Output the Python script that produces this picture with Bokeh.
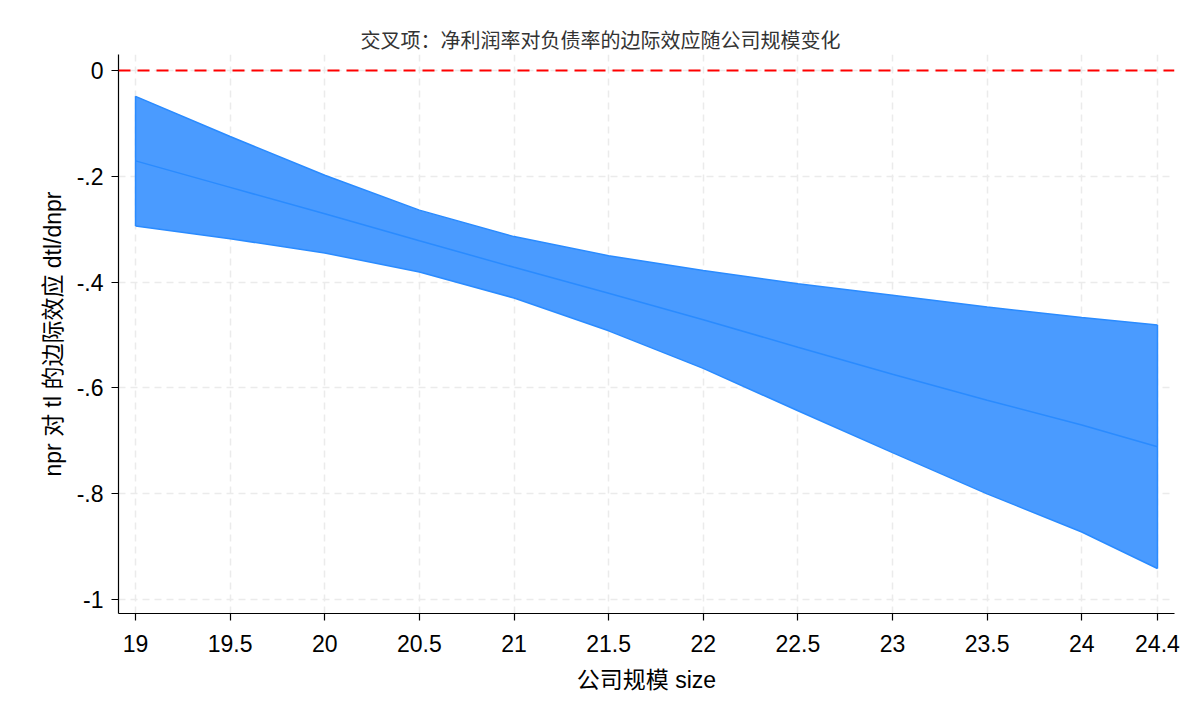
from bokeh.plotting import figure
from bokeh.models import FixedTicker, Span, Range1d, ColumnDataSource
from bokeh.embed import file_html
from bokeh.resources import INLINE

# data
size = [19, 19.5, 20, 20.5, 21, 21.5, 22, 22.5, 23, 23.5, 24, 24.4]
upper = [-0.049, -0.125, -0.198, -0.264, -0.314, -0.350, -0.378, -0.403, -0.425, -0.447, -0.467, -0.481]
lower = [-0.294, -0.318, -0.345, -0.381, -0.430, -0.492, -0.563, -0.643, -0.722, -0.800, -0.872, -0.941]
effect = [-0.171, -0.221, -0.271, -0.322, -0.372, -0.421, -0.471, -0.523, -0.574, -0.623, -0.670, -0.711]
x_ticks = [19, 19.5, 20, 20.5, 21, 21.5, 22, 22.5, 23, 23.5, 24, 24.4]
x_tick_labels = ["19", "19.5", "20", "20.5", "21", "21.5", "22", "22.5", "23", "23.5", "24", "24.4"]
y_ticks = [0, -0.2, -0.4, -0.6, -0.8, -1]
y_tick_labels = ["0", "-.2", "-.4", "-.6", "-.8", "-1"]

LAT = "Liberation Sans, Noto Sans CJK SC"

p = figure(width=1184, height=712, output_backend="svg", toolbar_location=None,
           x_range=Range1d(18.91, 24.49), y_range=Range1d(-1.026, 0.030),
           min_border_left=118, min_border_right=10, min_border_top=54, min_border_bottom=99,
           title="交叉项：净利润率对负债率的边际效应随公司规模变化")
p.outline_line_color = None
p.background_fill_color = "white"
p.border_fill_color = "white"

p.title.align = "left"
p.title.text_font = "Noto Sans CJK SC"
p.title.text_font_size = "20px"
p.title.text_font_style = "normal"
p.title.text_color = "#333333"
p.title.offset = 242
p.title.standoff = 1

src = ColumnDataSource(dict(x=size, lo=lower, hi=upper, m=effect))
p.varea(x="x", y1="lo", y2="hi", source=src, fill_color="#4A9BFF", fill_alpha=1.0)
p.line(x="x", y="hi", source=src, line_color="#2A8BFF", line_width=1.5)
p.line(x="x", y="lo", source=src, line_color="#2A8BFF", line_width=1.5)
p.line(x="x", y="m", source=src, line_color="#2A8BFF", line_width=1.5)
p.segment(x0=[size[0], size[-1]], y0=[lower[0], lower[-1]], x1=[size[0], size[-1]], y1=[upper[0], upper[-1]],
          line_color="#2A8BFF", line_width=1.5)

p.add_layout(Span(location=0, dimension="width", line_color="#FF0000", line_width=2, line_dash="12 7"))

# axes
p.xaxis.ticker = FixedTicker(ticks=x_ticks)
p.xaxis.major_label_overrides = {t: l for t, l in zip(x_ticks, x_tick_labels)}
p.yaxis.ticker = FixedTicker(ticks=y_ticks)
p.yaxis.major_label_overrides = {t: l for t, l in zip(y_ticks, y_tick_labels)}
p.xaxis.axis_label = "公司规模 size"
p.yaxis.axis_label = "npr 对 tl 的边际效应 dtl/dnpr"

for ax in (p.xaxis, p.yaxis):
    ax.axis_line_color = "black"
    ax.axis_line_width = 1.2
    ax.major_tick_line_color = "black"
    ax.major_tick_line_width = 1.2
    ax.major_tick_out = 7
    ax.major_tick_in = 0
    ax.minor_tick_line_color = None
    ax.major_label_text_font = "Liberation Sans"
    ax.major_label_text_font_size = "23px"
    ax.major_label_text_color = "black"
    ax.axis_label_text_font = LAT
    ax.axis_label_text_font_size = "23px"
    ax.axis_label_text_font_style = "normal"
    ax.axis_label_text_color = "black"

p.xaxis.major_label_standoff = 14
p.xaxis.axis_label_standoff = 12
p.yaxis.major_label_standoff = 8
p.yaxis.axis_label_standoff = 8
p.yaxis.major_label_orientation = "horizontal"

p.xgrid.ticker = FixedTicker(ticks=x_ticks)
p.ygrid.ticker = FixedTicker(ticks=y_ticks)
for g in (p.xgrid, p.ygrid):
    g.grid_line_color = "#EBEBEB"
    g.grid_line_width = 1.5
    g.grid_line_dash = "7 5"

open("out.html", "w").write(file_html(p, INLINE))
